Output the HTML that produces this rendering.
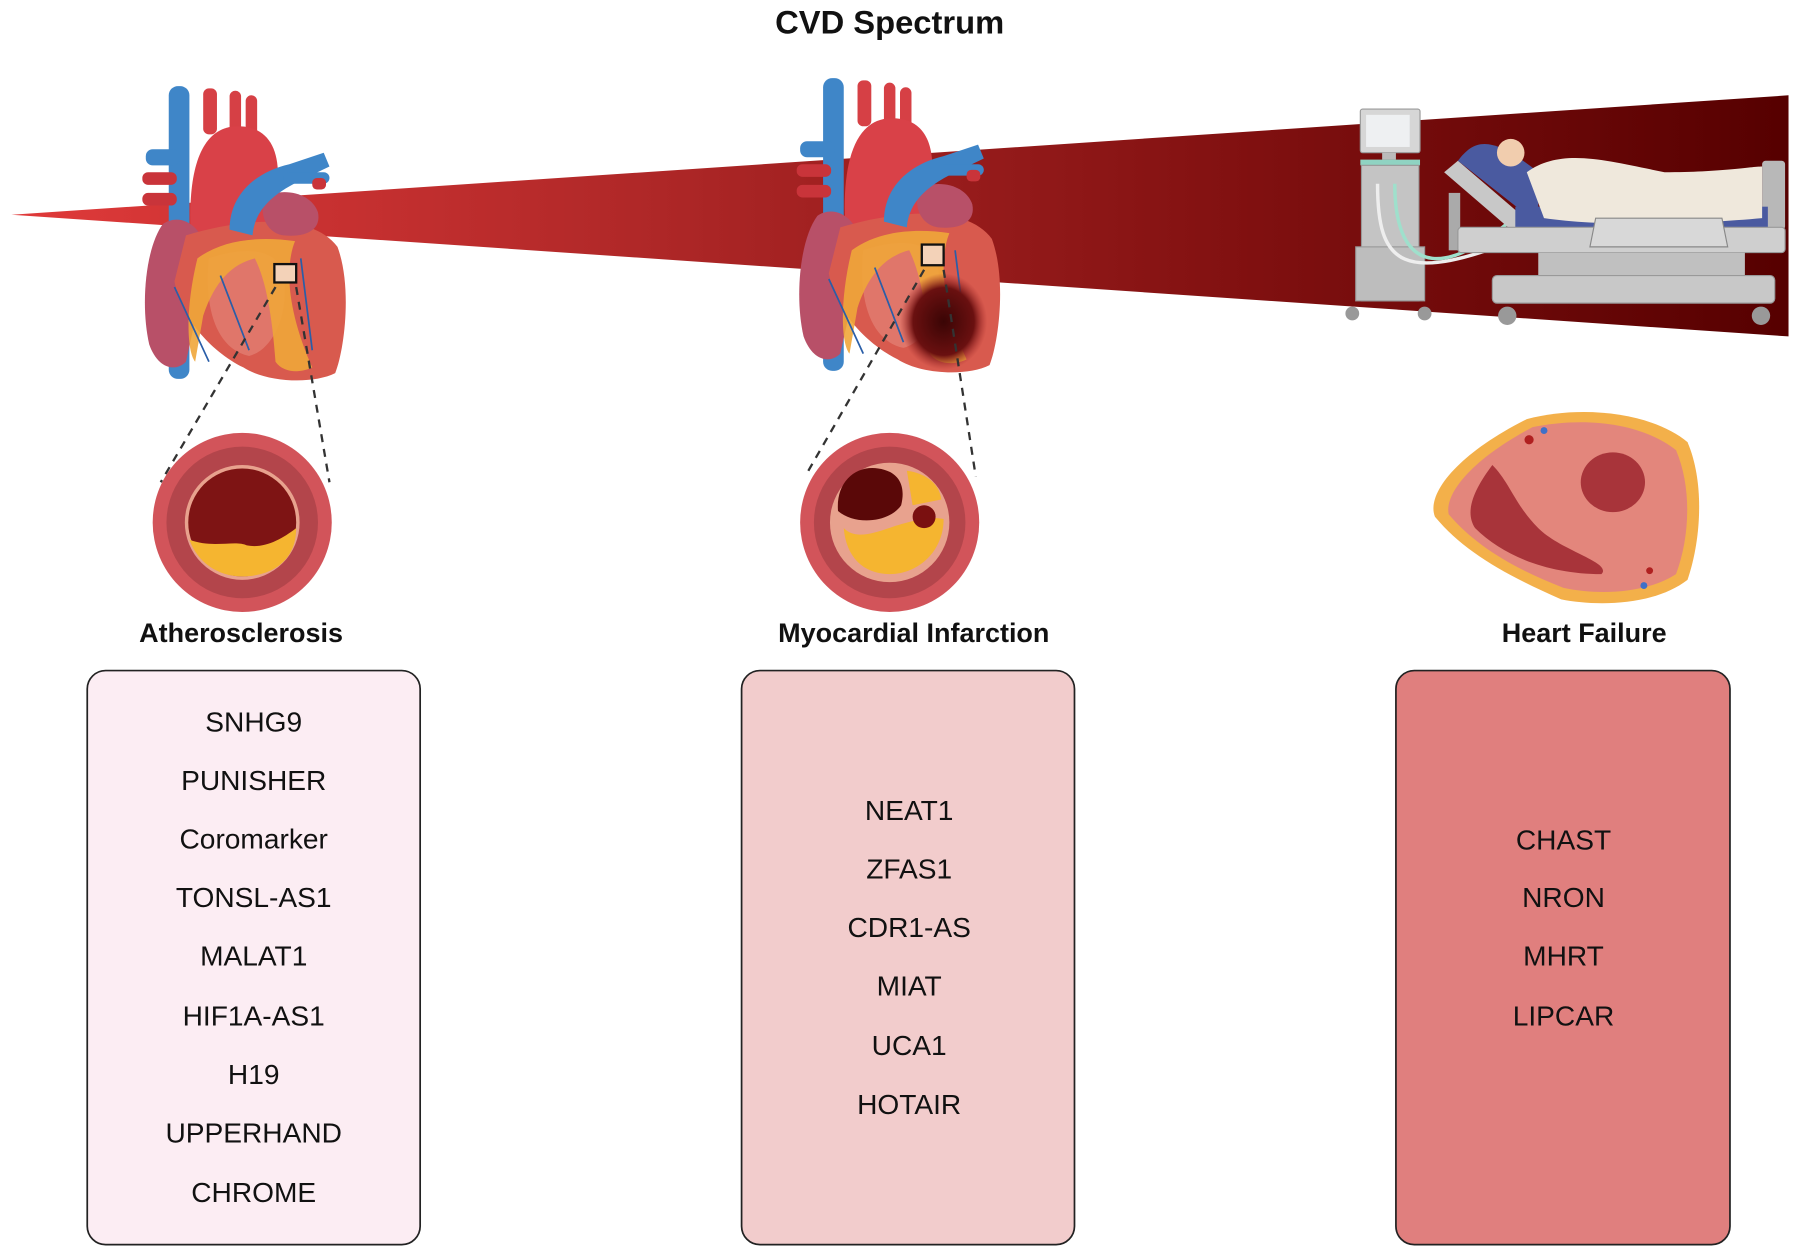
<!DOCTYPE html>
<html><head><meta charset="utf-8"><style>
html,body{margin:0;padding:0;background:#fff;}
svg{display:block;}
text{font-family:"Liberation Sans",sans-serif;}
</style></head><body>
<svg width="1800" height="1255" viewBox="0 0 1568 1093" preserveAspectRatio="none" xmlns="http://www.w3.org/2000/svg">
<defs>
<linearGradient id="wg" x1="0" x2="1" y1="0" y2="0">
<stop offset="0" stop-color="#e03a3a"/><stop offset="0.35" stop-color="#b02828"/><stop offset="0.7" stop-color="#801010"/><stop offset="1" stop-color="#560000"/>
</linearGradient>
<radialGradient id="inf" cx="0.5" cy="0.5" r="0.5"><stop offset="0" stop-color="#3a0505"/><stop offset="0.7" stop-color="#6a1010"/><stop offset="1" stop-color="#a02a2a" stop-opacity="0"/></radialGradient>
<g id="heart">
 <rect x="25" y="0" width="18" height="255" rx="8" fill="#3f86c8"/>
 <rect x="5" y="55" width="30" height="14" rx="6" fill="#3f86c8"/>
 <rect x="2" y="75" width="30" height="11" rx="5" fill="#c9343a"/>
 <rect x="2" y="93" width="30" height="11" rx="5" fill="#c9343a"/>
 <rect x="55" y="2" width="12" height="40" rx="5" fill="#d64045"/>
 <rect x="78" y="4" width="10" height="38" rx="5" fill="#d64045"/>
 <rect x="92" y="8" width="10" height="36" rx="5" fill="#d64045"/>
 <path d="M45 140 C40 80 50 35 85 35 C115 35 125 60 118 100 L100 150 Z" fill="#d94148"/>
 <path d="M20 120 C5 140 0 190 8 225 C15 245 30 250 40 240 L60 150 C55 120 35 110 20 120 Z" fill="#b85068"/>
 <path d="M40 130 C90 115 150 110 172 140 C185 175 178 230 170 250 C150 260 110 258 90 245 C60 230 35 200 30 170 Z" fill="#d85a4e"/>
 <path d="M60 150 C90 140 120 140 125 165 C130 200 115 230 95 235 C70 230 55 200 60 150 Z" fill="#e0766a"/>
 <path d="M110 95 C130 88 150 95 155 110 C158 125 145 132 125 130 C110 128 102 110 110 95 Z" fill="#b85068"/>
 <path d="M50 150 C70 135 100 130 135 135 C125 160 130 200 150 245 C140 250 125 250 118 240 C115 200 110 170 100 150 C80 155 65 170 55 200 L48 240 C40 230 40 190 50 150 Z" fill="#f0a63a" opacity="0.9"/>
 <path d="M78 125 C78 95 100 75 130 68 L160 58 L165 70 L140 82 C120 92 100 105 98 130 Z" fill="#3f86c8"/>
 <rect x="125" y="75" width="40" height="10" rx="5" fill="#3f86c8"/>
 <rect x="150" y="80" width="12" height="10" rx="4" fill="#c9343a"/>
 <path d="M30 175 L60 240 M70 165 L95 230 M140 150 L150 230" stroke="#2a5ea8" stroke-width="1.5" fill="none"/>
</g>
</defs>

<text x="775" y="29" text-anchor="middle" font-size="28.5" font-weight="bold" fill="#111">CVD Spectrum</text>

<polygon points="10,187 1558,83 1558,293" fill="url(#wg)"/>

<use href="#heart" transform="translate(122,75)"/>
<rect x="239" y="230" width="19" height="16" fill="#f3d2b8" stroke="#111" stroke-width="2"/>
<line x1="240" y1="250" x2="140" y2="420" stroke="#333" stroke-width="2" stroke-dasharray="7,6"/>
<line x1="258" y1="250" x2="287" y2="420" stroke="#333" stroke-width="2" stroke-dasharray="7,6"/>

<use href="#heart" transform="translate(692,68)"/>
<ellipse cx="822" cy="280" rx="38" ry="42" fill="url(#inf)"/>
<rect x="803" y="213" width="19" height="18" fill="#f3d2b8" stroke="#111" stroke-width="2"/>
<line x1="805" y1="235" x2="703" y2="412" stroke="#333" stroke-width="2" stroke-dasharray="7,6"/>
<line x1="822" y1="235" x2="850" y2="415" stroke="#333" stroke-width="2" stroke-dasharray="7,6"/>

<circle cx="211" cy="455" r="78" fill="#d2545a"/>
<circle cx="211" cy="455" r="66" fill="#b3454b"/>
<circle cx="211" cy="455" r="50" fill="#e8a28e"/>
<circle cx="211" cy="455" r="47" fill="#7e1414"/>
<path d="M165 470 C185 478 205 470 215 475 C230 478 245 470 258 460 C258 490 235 502 211 502 C190 502 172 490 165 470 Z" fill="#f5b530"/>

<circle cx="775" cy="455" r="78" fill="#d2545a"/>
<circle cx="775" cy="455" r="66" fill="#b3454b"/>
<circle cx="775" cy="455" r="52" fill="#e8a28e"/>
<path d="M730 445 C728 420 745 405 765 408 C780 410 790 420 785 440 C775 455 745 458 730 445 Z" fill="#5a0808"/>
<path d="M790 410 C805 412 818 420 820 435 L795 440 Z" fill="#f5b530"/>
<path d="M735 460 C745 470 760 465 780 458 C800 452 812 450 822 452 C822 480 800 500 775 500 C752 500 737 485 735 460 Z" fill="#f5b530"/>
<circle cx="805" cy="450" r="10" fill="#7a1010"/>

<path d="M1330 365 C1380 352 1440 360 1470 385 C1485 420 1482 470 1470 505 C1440 528 1390 528 1360 522 C1310 500 1275 480 1250 450 C1242 430 1270 395 1330 365 Z" fill="#f3b04a"/>
<path d="M1335 372 C1385 362 1432 370 1460 392 C1474 425 1472 468 1460 500 C1432 518 1390 518 1362 512 C1318 495 1285 475 1262 448 C1258 430 1282 400 1335 372 Z" fill="#e3867c"/>
<path d="M1300 405 C1285 425 1275 445 1285 460 C1310 485 1350 500 1395 500 C1405 490 1360 480 1340 460 C1320 440 1315 420 1300 405 Z" fill="#a8343a"/>
<ellipse cx="1405" cy="420" rx="28" ry="26" fill="#a8343a"/>
<circle cx="1332" cy="383" r="4" fill="#b02020"/><circle cx="1345" cy="375" r="3" fill="#3f70c8"/>
<circle cx="1432" cy="510" r="3" fill="#3f70c8"/><circle cx="1437" cy="497" r="3" fill="#b02020"/>

<rect x="1185" y="95" width="52" height="38" rx="2" fill="#d6d6d6" stroke="#999"/>
<rect x="1190" y="100" width="38" height="28" fill="#eef0f2"/>
<rect x="1204" y="133" width="12" height="6" fill="#bbb"/>
<rect x="1185" y="139" width="52" height="5" fill="#8fd3c2"/>
<rect x="1186" y="144" width="50" height="118" fill="#c4c4c4" stroke="#999"/>
<rect x="1181" y="215" width="60" height="47" fill="#bdbdbd" stroke="#999"/>
<circle cx="1178" cy="273" r="6" fill="#999"/><circle cx="1241" cy="273" r="6" fill="#999"/>
<path d="M1200 160 C1200 230 1220 250 1330 205" stroke="#eee" stroke-width="3" fill="none"/>
<path d="M1215 160 C1215 240 1260 250 1340 170" stroke="#9fe0cc" stroke-width="3" fill="none"/>

<rect x="1262" y="168" width="10" height="50" fill="#aaa"/>
<rect x="1535" y="140" width="20" height="60" rx="3" fill="#b8b8b8"/>
<path d="M1258 150 L1270 140 L1340 200 L1330 212 Z" fill="#c8c8c8"/>
<path d="M1270 140 C1285 120 1300 118 1340 150 L1340 195 Z" fill="#4a5aa0"/>
<rect x="1320" y="180" width="220" height="20" fill="#4a5aa0"/>
<path d="M1330 150 C1360 128 1400 140 1450 150 C1500 150 1525 145 1535 145 L1535 190 C1480 195 1400 198 1345 190 Z" fill="#efe8dc"/>
<circle cx="1316" cy="133" r="12" fill="#f1cdae"/>
<rect x="1270" y="198" width="285" height="22" rx="3" fill="#cfcfcf" stroke="#999"/>
<path d="M1390 190 L1500 190 L1505 215 L1385 215 Z" fill="#d8d8d8" stroke="#888"/>
<rect x="1340" y="220" width="180" height="20" fill="#c0c0c0"/>
<rect x="1300" y="240" width="246" height="24" rx="4" fill="#c8c8c8" stroke="#999"/>
<circle cx="1313" cy="275" r="8" fill="#999"/><circle cx="1534" cy="275" r="8" fill="#999"/>

<text x="210" y="559" text-anchor="middle" font-size="23.5" font-weight="bold" fill="#111">Atherosclerosis</text>
<text x="796" y="559" text-anchor="middle" font-size="23.5" font-weight="bold" fill="#111">Myocardial Infarction</text>
<text x="1380" y="559" text-anchor="middle" font-size="23.5" font-weight="bold" fill="#111">Heart Failure</text>

<rect x="76" y="584" width="290" height="500" rx="16" fill="#fcedf3" stroke="#222" stroke-width="1.5"/>
<rect x="646" y="584" width="290" height="500" rx="16" fill="#f2cccc" stroke="#222" stroke-width="1.5"/>
<rect x="1216" y="584" width="291" height="500" rx="16" fill="#e07f7e" stroke="#222" stroke-width="1.5"/>

<g font-size="24.5" fill="#111" text-anchor="middle">
<text x="221" y="637">SNHG9</text>
<text x="221" y="688">PUNISHER</text>
<text x="221" y="739">Coromarker</text>
<text x="221" y="790">TONSL-AS1</text>
<text x="221" y="841">MALAT1</text>
<text x="221" y="893">HIF1A-AS1</text>
<text x="221" y="944">H19</text>
<text x="221" y="995">UPPERHAND</text>
<text x="221" y="1047">CHROME</text>

<text x="792" y="714">NEAT1</text>
<text x="792" y="765">ZFAS1</text>
<text x="792" y="816">CDR1-AS</text>
<text x="792" y="867">MIAT</text>
<text x="792" y="919">UCA1</text>
<text x="792" y="970">HOTAIR</text>

<text x="1362" y="740">CHAST</text>
<text x="1362" y="790">NRON</text>
<text x="1362" y="841">MHRT</text>
<text x="1362" y="893">LIPCAR</text>
</g>
</svg>
</body></html>
